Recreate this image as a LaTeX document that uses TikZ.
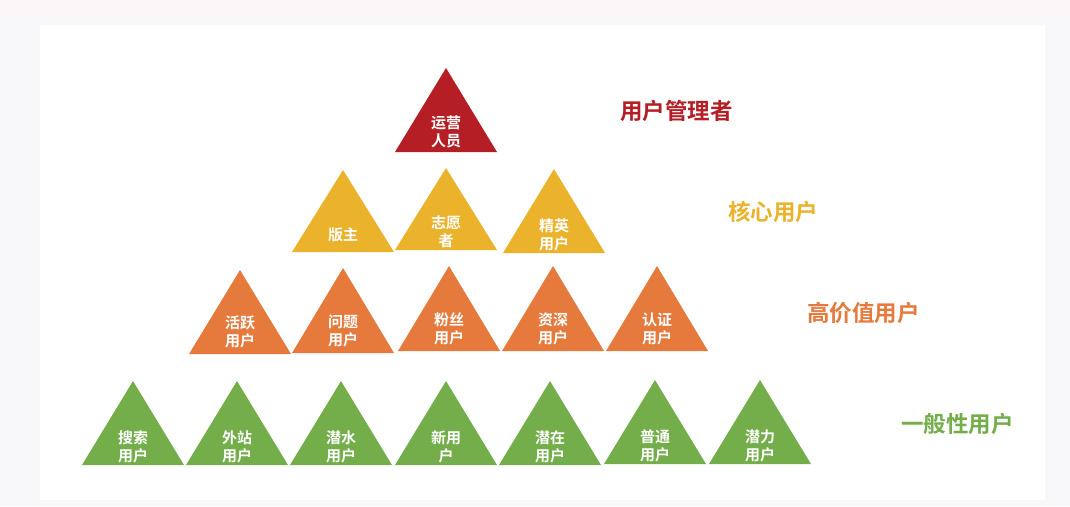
\documentclass[tikz,border=0pt]{standalone}
\usepackage{fontspec}
\newfontfamily\cjk{Noto Sans CJK SC}[BoldFont={Noto Sans CJK SC Bold}]
\definecolor{cred}{HTML}{B51E24}
\definecolor{cyel}{HTML}{EBB22C}
\definecolor{corg}{HTML}{E67A3C}
\definecolor{cgrn}{HTML}{73AE4A}
\definecolor{bggray}{HTML}{F8F8FA}
\definecolor{bgpink}{HTML}{FCF6F9}
\tikzset{
  tritext/.style={text=white, font=\cjk\bfseries\fontsize{15}{17.5}\selectfont, align=center, inner sep=0pt},
  levellabel/.style={font=\cjk\bfseries\fontsize{22.5}{25}\selectfont, inner sep=0pt, anchor=west},
}
% #1 name, #2 apex x, #3 apex y, #4 base y, #5 colour, #6 text y, #7 text
\newcommand\mytri[7]{%
  \coordinate (#1-top) at (#2,#3);
  \coordinate (#1-l) at (#2-51,#4);
  \coordinate (#1-r) at (#2+51,#4);
  \fill[#5] (#1-top) -- (#1-l) -- (#1-r) -- cycle;
  \node[tritext] (#1) at (#2,#6) {#7};
}
\begin{document}
\begin{tikzpicture}[x=1pt,y=-1pt]
\useasboundingbox (0,0) rectangle (1070,506);
\fill[bggray] (0,0) rectangle (1070,506);
\fill[bgpink] (0,0) rectangle (1070,17);
\fill[white] (40,25) rectangle (1045,500);
% row 1
\mytri{a1}{446}{68}{152}{cred}{132}{运营\\人员}
% row 2
\mytri{b1}{343}{170}{252}{cyel}{235}{版主}
\mytri{b2}{446}{168}{250}{cyel}{232}{志愿\\者}
\mytri{b3}{554}{169}{253}{cyel}{235}{精英\\用户}
% row 3
\mytri{c1}{240}{270}{354}{corg}{332}{活跃\\用户}
\mytri{c2}{343}{268}{353}{corg}{331}{问题\\用户}
\mytri{c3}{449}{266}{351}{corg}{329}{粉丝\\用户}
\mytri{c4}{553}{266}{351}{corg}{329}{资深\\用户}
\mytri{c5}{657}{266}{351}{corg}{329}{认证\\用户}
% row 4
\mytri{d1}{133}{381}{465}{cgrn}{447}{搜索\\用户}
\mytri{d2}{237}{381}{465}{cgrn}{447}{外站\\用户}
\mytri{d3}{341}{381}{465}{cgrn}{447}{潜水\\用户}
\mytri{d4}{446}{381}{465}{cgrn}{447}{新用\\户}
\mytri{d5}{550}{381}{465}{cgrn}{447}{潜在\\用户}
\mytri{d6}{655}{380}{464}{cgrn}{446}{普通\\用户}
\mytri{d7}{760}{380}{464}{cgrn}{446}{潜力\\用户}
% level labels
\node[levellabel, text=cred] (l1) at (620,111) {用户管理者};
\node[levellabel, text=cyel] (l2) at (728,212) {核心用户};
\node[levellabel, text=corg] (l3) at (807,313) {高价值用户};
\node[levellabel, text=cgrn] (l4) at (901,424) {一般性用户};
\end{tikzpicture}
\end{document}
